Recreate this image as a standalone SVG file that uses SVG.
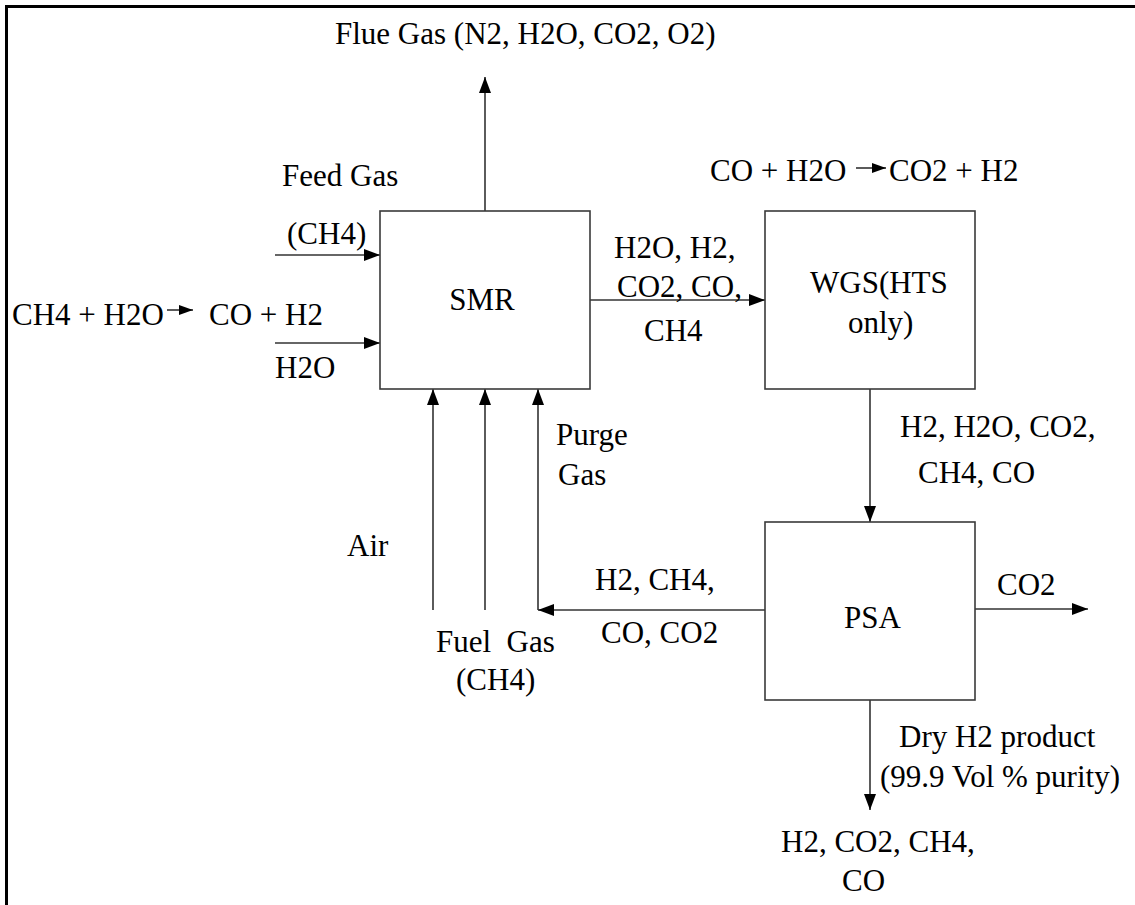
<svg xmlns="http://www.w3.org/2000/svg" width="1135" height="905" viewBox="0 0 1135 905">
<style>
text{font-family:"Liberation Serif","Times New Roman",serif;font-size:31px;fill:#000}
.box{fill:#fff;stroke:#3a3a3a;stroke-width:1.6}
.ln{fill:none;stroke:#333;stroke-width:1.6}
.frame{stroke:#000;stroke-width:3;fill:none}
</style>
<defs>
<marker id="ah" markerUnits="userSpaceOnUse" markerWidth="16" markerHeight="12" refX="16" refY="6" orient="auto">
<path d="M0,0 L16,6 L0,12 Z" fill="#000"/>
</marker>
<marker id="sah" markerUnits="userSpaceOnUse" markerWidth="14" markerHeight="10" refX="14" refY="5" orient="auto">
<path d="M0,0 L14,5 L0,10 Z" fill="#000"/>
</marker>
</defs>
<rect width="1135" height="905" fill="#fff"/>
<path class="frame" d="M6.5,905 V6.5 H1135"/>

<g id="connectors">
<line class="ln" x1="485" y1="211" x2="485" y2="77" marker-end="url(#ah)"/>
<line class="ln" x1="275" y1="255" x2="380" y2="255" marker-end="url(#ah)"/>
<line class="ln" x1="275" y1="343" x2="380" y2="343" marker-end="url(#ah)"/>
<line class="ln" x1="590" y1="300" x2="765" y2="300" marker-end="url(#ah)"/>
<line class="ln" x1="433" y1="610" x2="433" y2="389" marker-end="url(#ah)"/>
<line class="ln" x1="485" y1="610" x2="485" y2="389" marker-end="url(#ah)"/>
<line class="ln" x1="538" y1="610" x2="538" y2="389" marker-end="url(#ah)"/>
<line class="ln" x1="765" y1="610" x2="538" y2="610" marker-end="url(#ah)"/>
<line class="ln" x1="870" y1="389" x2="870" y2="522" marker-end="url(#ah)"/>
<line class="ln" x1="975" y1="609" x2="1088" y2="609" marker-end="url(#ah)"/>
<line class="ln" x1="870" y1="700" x2="870" y2="810" marker-end="url(#ah)"/>
</g>

<g id="smr">
<rect class="box" x="380" y="211" width="210" height="178"/>
<text x="482" y="310" text-anchor="middle">SMR</text>
</g>
<g id="wgs">
<rect class="box" x="765" y="211" width="210" height="178"/>
<text x="810" y="293">WGS(HTS</text>
<text x="848" y="333">only)</text>
</g>
<g id="psa">
<rect class="box" x="765" y="522" width="210" height="178"/>
<text x="844" y="628">PSA</text>
</g>

<g id="labels">
<text x="335" y="44">Flue Gas (N2, H2O, CO2, O2)</text>
<text x="282" y="186">Feed Gas</text>
<text x="287" y="244">(CH4)</text>
<text x="12" y="325">CH4 + H2O</text>
<line class="ln" x1="167" y1="310" x2="193" y2="310" marker-end="url(#sah)"/>
<text x="209" y="325">CO + H2</text>
<text x="275" y="378">H2O</text>
<text x="710" y="181">CO + H2O</text>
<line class="ln" x1="856" y1="168" x2="886" y2="168" marker-end="url(#sah)"/>
<text x="889" y="181">CO2 + H2</text>
<text x="614" y="258">H2O, H2,</text>
<text x="617" y="297">CO2, CO,</text>
<text x="644" y="341">CH4</text>
<text x="900" y="437">H2, H2O, CO2,</text>
<text x="918" y="483">CH4, CO</text>
<text x="556" y="445">Purge</text>
<text x="558" y="485">Gas</text>
<text x="347" y="556">Air</text>
<text x="595" y="590">H2, CH4,</text>
<text x="601" y="643">CO, CO2</text>
<text x="436" y="652" xml:space="preserve">Fuel  Gas</text>
<text x="456" y="690">(CH4)</text>
<text x="997" y="595">CO2</text>
<text x="899" y="747">Dry H2 product</text>
<text x="880" y="787">(99.9 Vol % purity)</text>
<text x="781" y="852">H2, CO2, CH4,</text>
<text x="842" y="891">CO</text>
</g>
</svg>
